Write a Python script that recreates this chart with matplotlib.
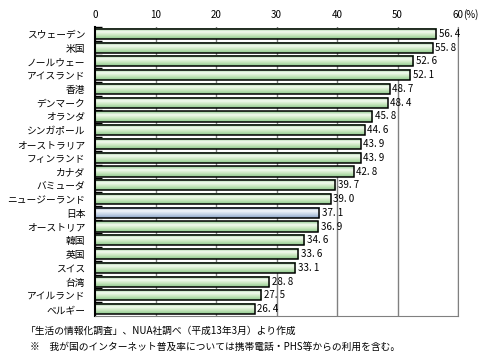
import matplotlib
matplotlib.use("Agg")
import matplotlib.pyplot as plt
import numpy as np
from matplotlib.colors import LinearSegmentedColormap

plt.rcParams['font.family'] = ['Noto Sans CJK JP', 'DejaVu Sans']

countries = ["スウェーデン", "米国", "ノールウェー", "アイスランド", "香港", "デンマーク",
             "オランダ", "シンガポール", "オーストラリア", "フィンランド", "カナダ",
             "バミューダ", "ニュージーランド", "日本", "オーストリア", "韓国", "英国",
             "スイス", "台湾", "アイルランド", "ベルギー"]
rates = [56.4, 55.8, 52.6, 52.1, 48.7, 48.4, 45.8, 44.6, 43.9, 43.9, 42.8,
         39.7, 39.0, 37.1, 36.9, 34.6, 33.6, 33.1, 28.8, 27.5, 26.4]
highlight = "日本"
xticks = [0, 10, 20, 30, 40, 50, 60]

green = LinearSegmentedColormap.from_list("g", ["#8cc88c", "#f4fbf0", "#c6e6bc", "#8cc88c"])
blue = LinearSegmentedColormap.from_list("b", ["#8aa4c8", "#f4f7fb", "#c4d2e6", "#8aa4c8"])
grad = np.linspace(0, 1, 64).reshape(-1, 1)

fig = plt.figure(figsize=(4.92, 3.63), dpi=100)
ax = fig.add_axes([95 / 492, 1 - 316 / 363, (458 - 95) / 492, (316 - 27) / 363])

n = len(countries)
y = np.arange(n)
h = 0.74
for i, (c, v) in enumerate(zip(countries, rates)):
    cm = blue if c == highlight else green
    ax.imshow(grad, cmap=cm, aspect='auto', extent=(0, v, i + h / 2, i - h / 2),
              interpolation='bilinear', zorder=2)
    ax.add_patch(plt.Rectangle((0, i - h / 2), v, h, fill=False,
                               edgecolor='black', lw=1.1, zorder=3))
    ax.text(v + 0.4, i, f"{v:.1f}".replace(".", ". "), va='center', ha='left',
            fontsize=7, zorder=4)

ax.set_xlim(0, 60)
ax.set_ylim(n - 0.5, -0.5)
ax.set_yticks(y)
ax.set_yticklabels(countries, fontsize=7)
ax.set_yticks(np.arange(n) - 0.5, minor=True)
ax.tick_params(axis='y', which='major', length=0, pad=7)
ax.tick_params(axis='y', which='minor', direction='in', length=5, width=1, color='black')
ax.xaxis.tick_top()
ax.set_xticks(xticks)
ax.set_xticklabels([str(t) for t in xticks], fontsize=7)
ax.tick_params(axis='x', length=0, pad=5)
ax.grid(axis='x', color='#808080', lw=1, zorder=1)
for s in ['top', 'right', 'bottom']:
    ax.spines[s].set_color('#808080')
ax.spines['top'].set_visible(False)
ax.spines['left'].set_color('black')
ax.spines['left'].set_linewidth(1.5)

fig.text(463 / 492, 1 - 15 / 363, "(%)", fontsize=7, va='center', ha='left')
fig.text(26 / 492, 1 - 331 / 363, "「生活の情報化調査」、NUA社調べ（平成13年3月）より作成",
         fontsize=7, va='center')
fig.text(30 / 492, 1 - 347 / 363,
         "※　我が国のインターネット普及率については携帯電話・PHS等からの利用を含む。",
         fontsize=7, va='center')

fig.savefig("out.png", dpi=100)
